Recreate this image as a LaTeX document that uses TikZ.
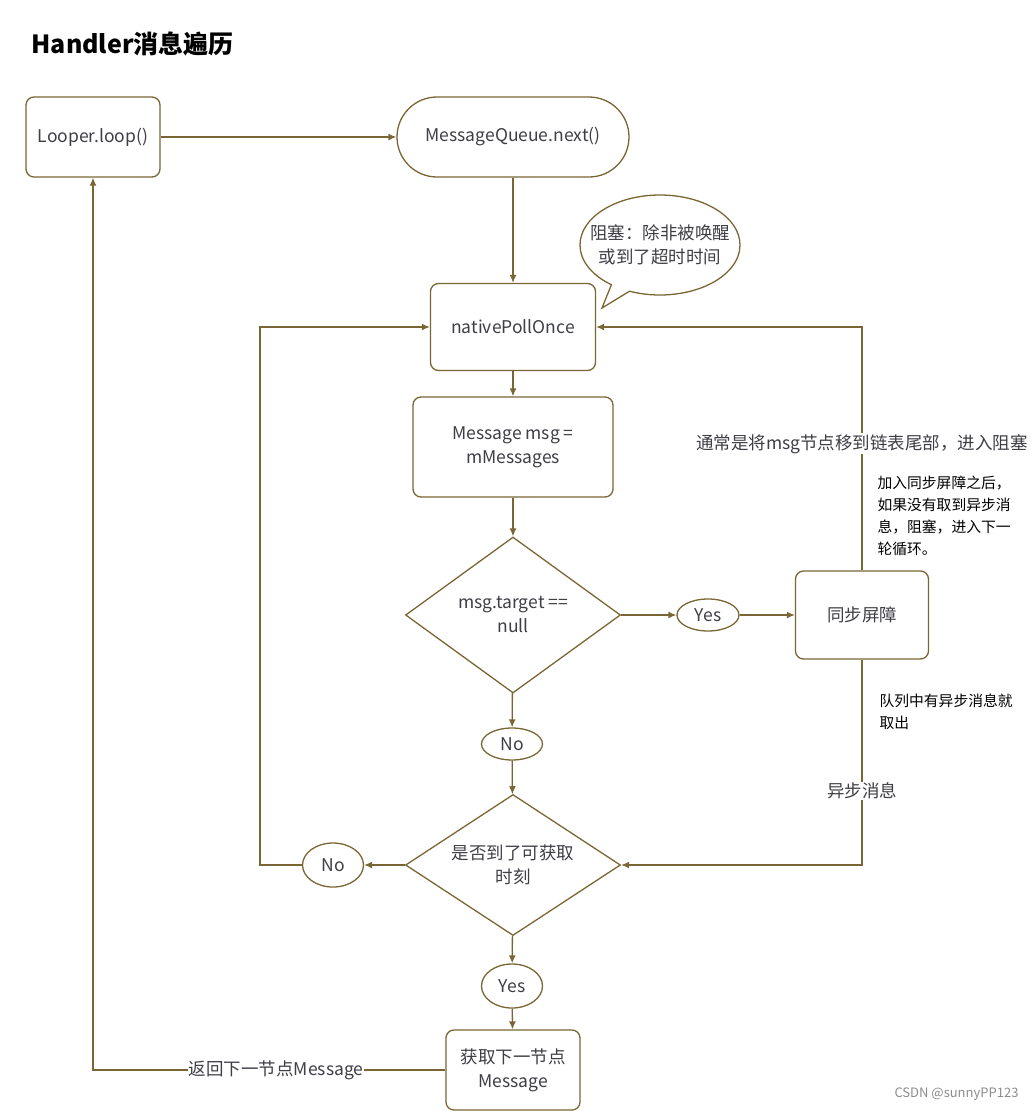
\documentclass[tikz,border=0pt]{standalone}
\usepackage{fontspec}
\setmainfont{Noto Sans CJK SC}
\usetikzlibrary{shapes.geometric,shapes.callouts,arrows.meta}
\definecolor{linebrown}{RGB}{122,102,52}
\definecolor{textgray}{RGB}{62,62,68}

\begin{document}
\begin{tikzpicture}[
		x=1pt, y=-1pt,
		every node/.style={font=\fontsize{17.5}{24}\selectfont, text=textgray},
		box/.style={draw=linebrown, line width=1.3pt, rounded corners=8pt, align=center, fill=white},
		oval/.style={draw=linebrown, line width=1.3pt, ellipse, inner sep=0pt, fill=white},
		choice/.style={draw=linebrown, line width=1.3pt, diamond, aspect=1.38, inner sep=0pt, align=center},
		flow/.style={draw=linebrown, line width=1.3pt, -{Latex[length=8pt,width=7pt]}},
		lbl/.style={fill=white, inner sep=1pt},
		note/.style={font=\fontsize{14.8}{22}\selectfont, text=black, align=left, anchor=north west}
		]
		\useasboundingbox (0,0) rectangle (1035,1112);
		\node[font=\bfseries\fontsize{25}{30}\selectfont, text=black, anchor=west] (title) at (28,44) {Handler消息遍历};
		
		\node[box, minimum width=134pt, minimum height=80pt] (looper) at (93,137) {Looper.loop()};
		\node[box, rounded corners=40pt, minimum width=232pt, minimum height=80pt] (mq) at (513,137) {MessageQueue.next()};
		\node[box, minimum width=165pt, minimum height=87pt] (poll) at (513,327) {nativePollOnce};
		\node[box, minimum width=200pt, minimum height=100pt] (msg) at (513,447) {Message msg =\\mMessages};
		\node[choice, minimum width=215pt, minimum height=156pt] (chk) at (513,615) {msg.target ==\\null};
		\node[oval, minimum width=61pt, minimum height=32pt] (no1) at (512,744) {No};
		\node[choice, minimum width=215pt, minimum height=141pt] (chk2) at (513,865) {是否到了可获取\\时刻};
		\node[oval, minimum width=61pt, minimum height=44pt] (no2) at (333,865) {No};
		\node[oval, minimum width=61pt, minimum height=44pt] (yes2) at (512,986) {Yes};
		\node[box, minimum width=134pt, minimum height=80pt] (get) at (513,1070) {获取下一节点\\Message};
		\node[oval, minimum width=62pt, minimum height=32pt] (yes1) at (708,615) {Yes};
		\node[box, minimum width=133pt, minimum height=88pt] (sync) at (862,615) {同步屏障};
		
		% callout
		\node[draw=linebrown, line width=1.3pt, ellipse callout, inner sep=0pt, minimum width=160pt, minimum height=100pt,
			callout absolute pointer={(602,308)}, align=center] (block) at (660,245)
			{\makebox[90pt]{阻塞：除非被唤醒}\\\makebox[90pt]{或到了超时时间}};
		
		\coordinate (lloop) at (260,865);
		
		\draw[flow] (looper) -- (mq);
		\draw[flow] (mq) -- (poll);
		\draw[flow] (poll) -- (msg);
		\draw[flow] (msg) -- (chk);
		\draw[flow] (chk) -- (no1);
		\draw[flow] (no1) -- (chk2);
		\draw[flow] (chk) -- (yes1);
		\draw[flow] (yes1) -- (sync);
		\draw[flow] (sync.north) |- node[pos=0.26, lbl] {通常是将msg节点移到链表尾部，进入阻塞} (poll.east);
		\draw[flow] (sync.south) |- node[pos=0.32, lbl] {异步消息} (chk2.east);
		\draw[flow] (chk2) -- (no2);
		\draw[flow] (no2.west) -- (lloop) |- (poll.west);
		\draw[flow] (chk2) -- (yes2);
		\draw[flow] (yes2) -- (get);
		\draw[flow] (get.west) -| node[pos=0.24, lbl] {返回下一节点Message} (looper.south);
		
		% notes
		\node[note] (note1) at (874,472) {加入同步屏障之后，\\如果没有取到异步消\\息，阻塞，进入下一\\轮循环。};
		\node[note] (note2) at (876,690) {队列中有异步消息就\\取出};
		\node[font=\fontsize{13}{15}\selectfont, text=black!45, anchor=east] (mark) at (1022,1094) {CSDN @sunnyPP123};
\end{tikzpicture}
\end{document}
